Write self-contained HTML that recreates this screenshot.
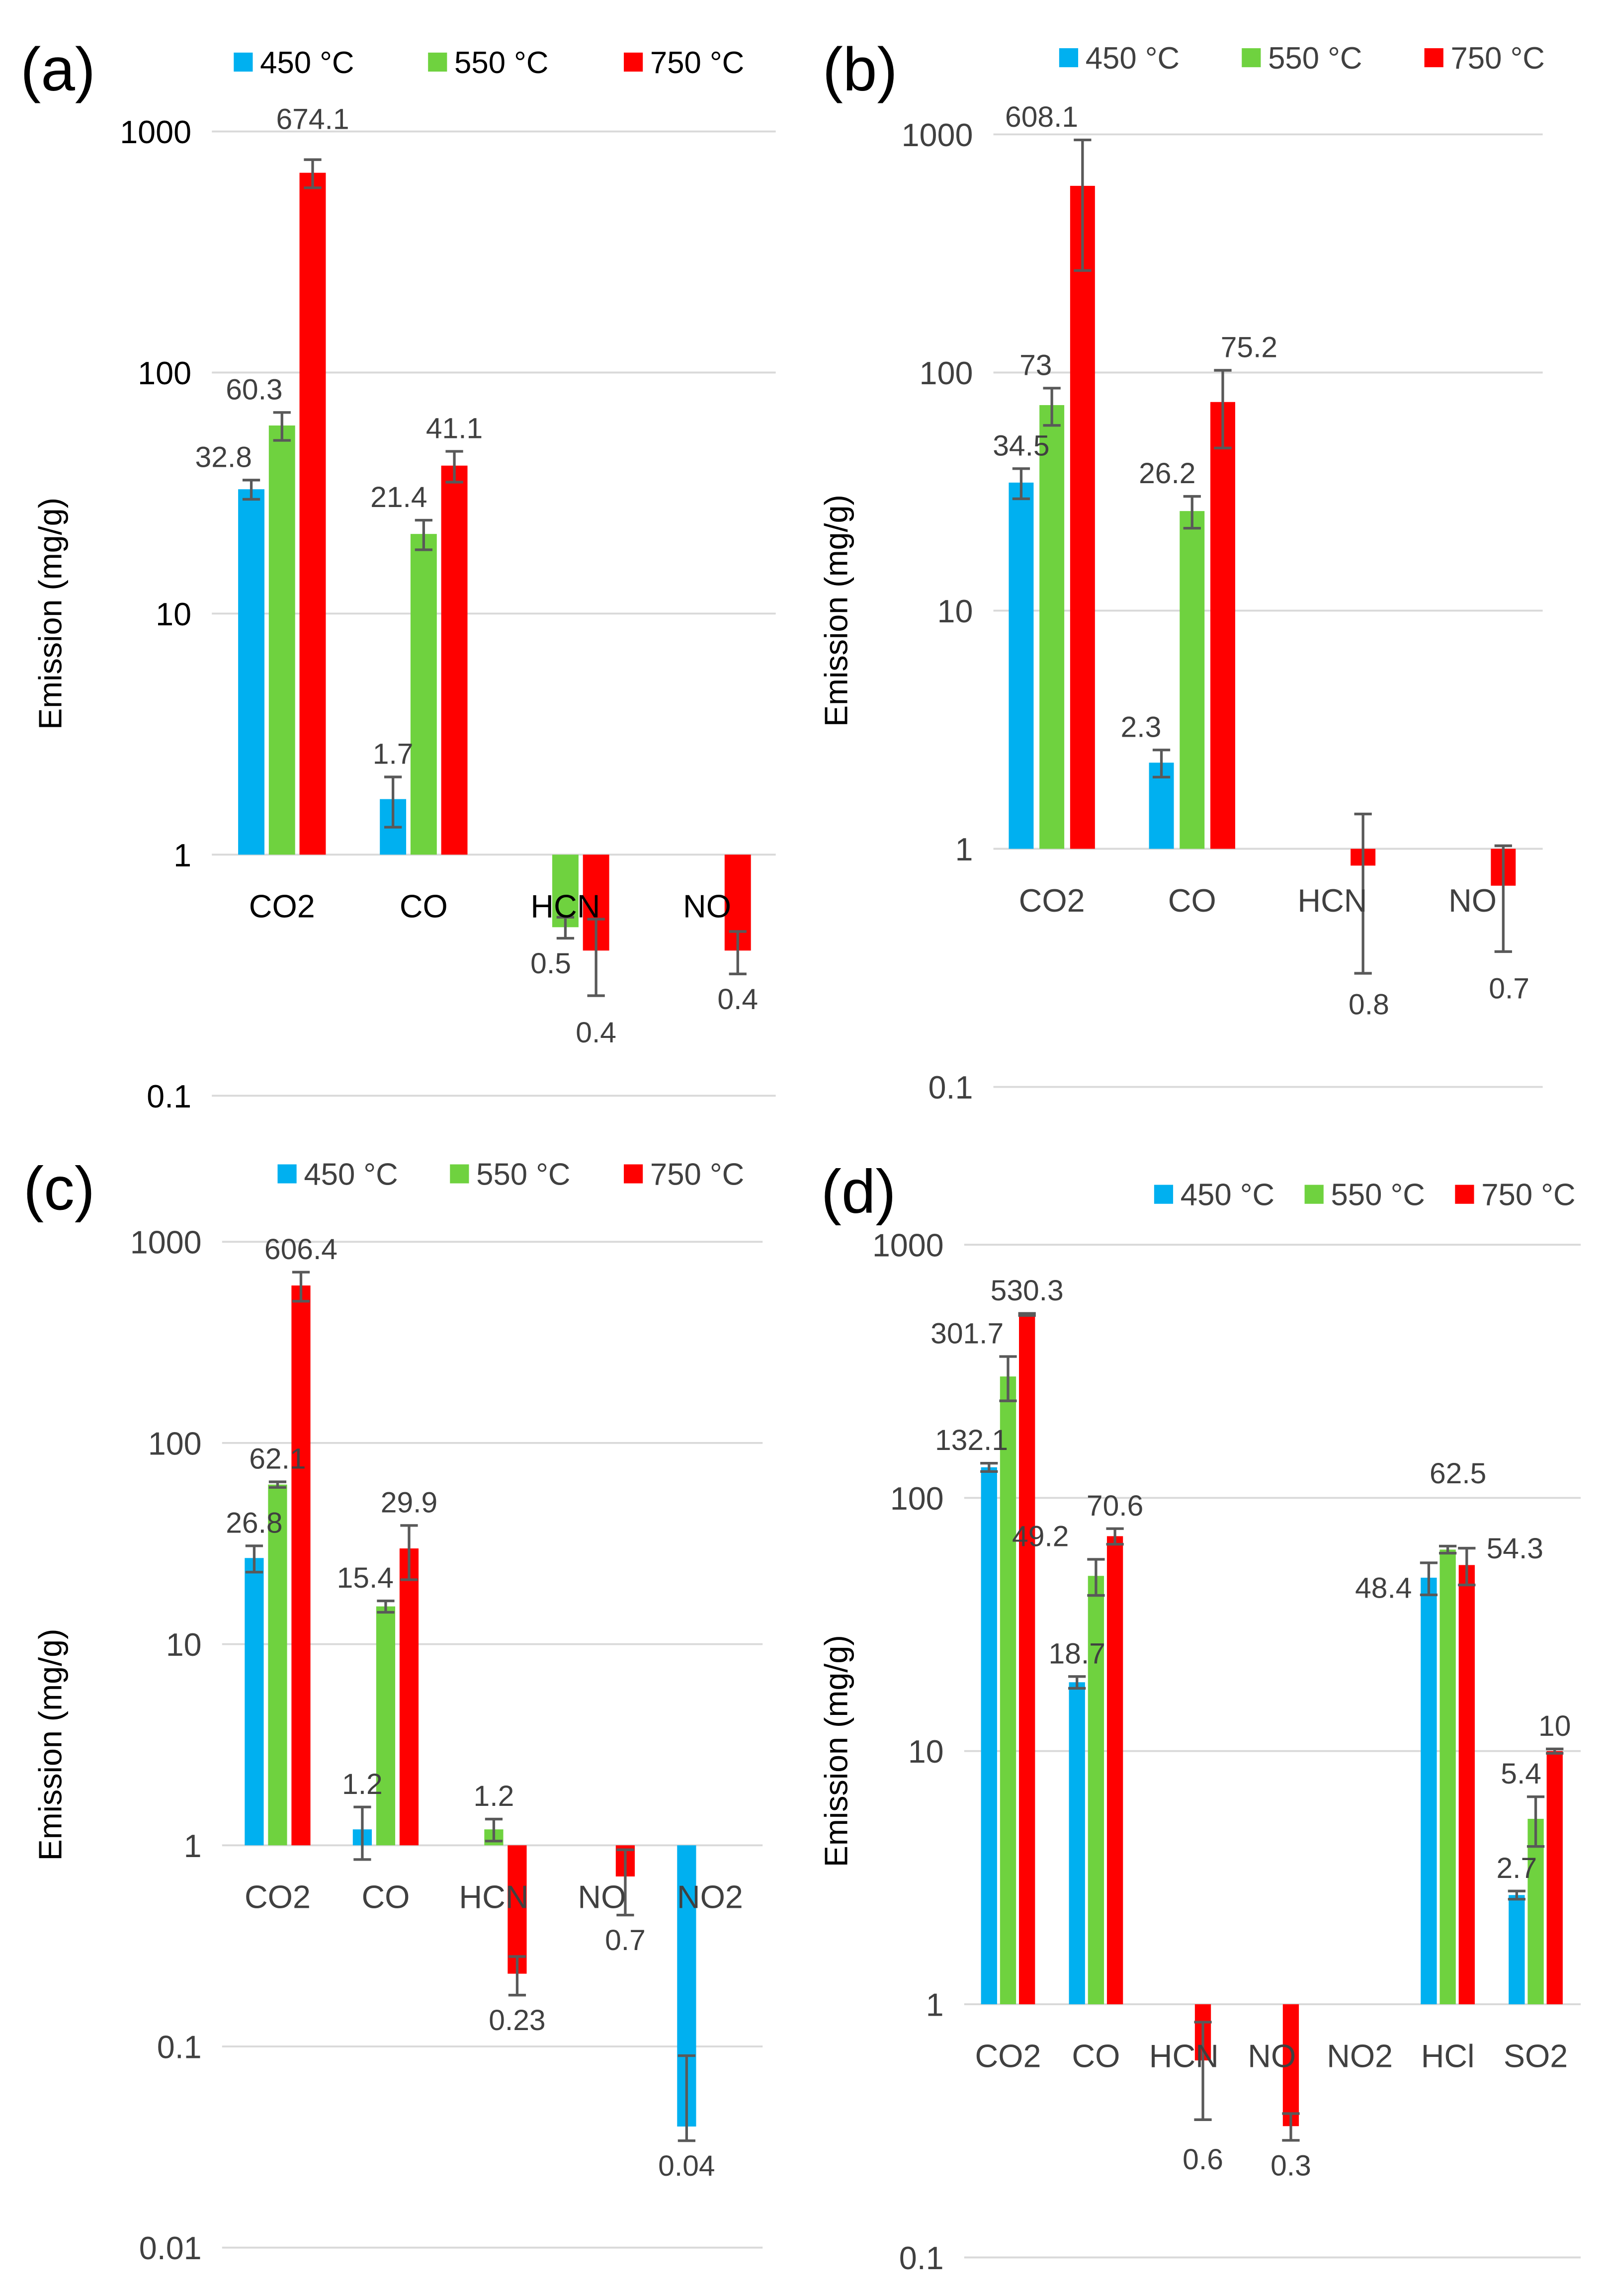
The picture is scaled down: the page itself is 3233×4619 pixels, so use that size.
<!DOCTYPE html>
<html><head><meta charset="utf-8"><style>
html,body{margin:0;padding:0;background:#fff}
svg{display:block}
text{font-family:"Liberation Sans",sans-serif;fill:#404040}
</style></head><body>
<svg id="fig" xmlns="http://www.w3.org/2000/svg" width="3233" height="4619" viewBox="0 0 1100 1571.6"></svg>
<script>
const seriesNames = ["450 °C","550 °C","750 °C"];
const colors = ["#00B0F0","#6FD23F","#FF0000"];
// panel a
const catsA = ["CO2","CO","HCN","NO"];
const a450 = [32.8,1.7,null,null];
const a550 = [60.3,21.4,0.5,null];
const a750 = [674.1,41.1,0.4,0.4];
const eA450 = [3,0.4,0,0];
const eA550 = [8,3,0.05,0];
const eA750 = [90,6,0.14,0.08];
// panel b
const catsB = ["CO2","CO","HCN","NO"];
const b450 = [34.5,2.3,null,null];
const b550 = [73,26.2,null,null];
const b750 = [608.1,75.2,0.85,0.7];
const eB450 = [5,0.3,0,0];
const eB550 = [13,4,0,0];
const eB750 = [340,27,0.55,0.33];
// panel c
const catsC = ["CO2","CO","HCN","NO","NO2"];
const c450 = [26.8,1.2,null,null,0.04];
const c550 = [62.1,15.4,1.2,null,null];
const c750 = [606.4,29.9,0.23,0.7,null];
const eC450 = [4,0.35,0,0,0.05];
const eC550 = [2,1,0.15,0,0];
const eC750 = [100,9,0.05,0.25,0];
// panel d
const catsD = ["CO2","CO","HCN","NO","NO2","HCl","SO2"];
const d450 = [132.1,18.7,null,null,null,48.4,2.7];
const d550 = [301.7,49.2,null,null,null,62.5,5.4];
const d750 = [530.3,70.6,0.6,0.33,null,54.3,10];
const eD450 = [5,1,0,0,0,7,0.1];
const eD550 = [60,8,0,0,0,2,1.2];
const eD750 = [5,5,0.25,0.04,0,9,0.2];
const labA=[["32.8","1.7",null,null],["60.3","21.4","0.5",null],["674.1","41.1","0.4","0.4"]];
const labB=[["34.5","2.3",null,null],["73","26.2",null,null],["608.1","75.2","0.8","0.7"]];
const labC=[["26.8","1.2",null,null,"0.04"],["62.1","15.4","1.2",null,null],["606.4","29.9","0.23","0.7",null]];
const labD=[["132.1","18.7",null,null,null,"48.4","2.7"],["301.7","49.2",null,null,null,"62.5","5.4"],["530.3","70.6","0.6","0.3",null,"54.3","10"]];
// label nudges (px) per series/category
const dxA=[[-19,0,0,0],[-19,-17,-10,0],[0,0,0,0]];
const dyA=[[0,0,0,0],[0,0,0,0],[-12,0,8,0]];
const dxB=[[0,-14,0,0],[-11,-17,0,0],[-28,18,4,4]];
const dyB=[[0,0,0,0],[0,0,0,0],[0,0,4,8]];
const dxC=[[0,0,0,0,0],[0,-14,0,0,0],[0,0,0,0,0]];
const dyC=[[0,0,0,0,0],[0,0,0,0,0],[0,0,0,0,0]];
const dxD=[[-12,0,0,0,0,-31,0],[-28,-38,0,0,0,7,-10],[0,0,0,0,0,33,0]];
const dyD=[[0,0,0,0,0,33,0],[0,0,0,0,0,-34,0],[0,0,10,0,0,16,0]];

const NS="http://www.w3.org/2000/svg";
const svg=document.getElementById('fig');
function mk(tag,attrs,parent,txt){const e=document.createElementNS(NS,tag);for(const k in attrs)e.setAttribute(k,attrs[k]);if(txt!=null)e.textContent=txt;(parent||svg).appendChild(e);return e;}

function panel(p){
  const g=mk('g',{});
  
  
  const topExp=3, y=v=>p.y1000+(topExp-Math.log10(v))*p.dec;
  for(let i=0;i<p.ticks.length;i++){
    const v=p.ticks[i];const yy=y(v);
    const l=mk('line',{x1:p.gx0,x2:p.gx1,y1:yy,y2:yy,stroke:'#D9D9D9','stroke-width':1.3},g);
    
    
    const t=mk('text',{x:p.gx0-14,y:yy+8,'text-anchor':'end','font-size':22,style:'fill:'+p.tc},g,String(v));
    
    
  }
  const series=[p.s1,p.s2,p.s3], errs=[p.e1,p.e2,p.e3];
  const base=y(1);
  const labelLayer=[];
  for(let c=0;c<p.cats.length;c++){
    const cx=p.cx0+c*p.step;
    for(let s=0;s<3;s++){
      const v=series[s][c]; if(v==null) continue;
      const bx=cx+(s-1)*(p.bw+p.gap)-p.bw/2;
      const yv=y(v), top=Math.min(yv,base), h=Math.abs(yv-base);
      const r=mk('rect',{x:bx,y:top,width:p.bw,height:Math.max(h,0.5),fill:colors[s]},g);
      
      
      const e=errs[s][c];
      let hi=yv, lo=yv;
      if(e>0){
        hi=y(v+e); lo=y(v-e>0?v-e:v*0.85);
        const mx=bx+p.bw/2;
        const el=mk('path',{d:`M${mx} ${hi}V${lo}M${mx-6} ${hi}H${mx+6}M${mx-6} ${lo}H${mx+6}`,stroke:'#595959','stroke-width':1.8,fill:'none'},g);
        
        
      }
      const lab=p.labs[s][c];
      if(lab){
        const ly = (v>=1 ? Math.min(hi,yv)-9 : Math.max(lo,yv)+24) + p.dy[s][c];
        labelLayer.push([bx+p.bw/2+p.dx[s][c],ly,lab]);
      }
    }
  }
  for(let c=0;c<p.cats.length;c++){
    const cx=p.cx0+c*p.step;
    const ct=mk('text',{x:cx,y:base+43,'text-anchor':'middle','font-size':22,style:'fill:'+p.tc},g,p.cats[c]);
    
    
  }
  for(const L of labelLayer){
    const lt=mk('text',{x:L[0],y:L[1],'text-anchor':'middle','font-size':20,style:'fill:#404040'},g,L[2]);
    
    
  }
  for(let s=0;s<3;s++){
    const lx=p.lx[s];
    const sq=mk('rect',{x:lx,y:p.ly-7,width:13,height:13,fill:colors[s]},g);
    
    
    const lt=mk('text',{x:lx+18,y:p.ly+7,'font-size':21,style:'fill:'+p.tc},g,seriesNames[s]);
    
    
  }
  const pl=mk('text',{x:p.px,y:p.py,'font-size':42,style:'fill:#000'},g,'('+p.id+')');
  
  
  const ty=(y(p.ticks[0])+y(p.ticks[p.ticks.length-1]))/2;
  const yt=mk('text',{x:p.tx,y:ty,'text-anchor':'middle','font-size':22,transform:`rotate(-90 ${p.tx} ${ty})`,style:'fill:#000'},g,'Emission (mg/g)');
  
  
}
panel({id:'a',y1000:90,dec:165,ticks:[1000,100,10,1,0.1],gx0:145,gx1:531,cats:catsA,cx0:193,step:97,bw:18,gap:3,
  s1:a450,s2:a550,s3:a750,e1:eA450,e2:eA550,e3:eA750,labs:labA,dx:dxA,dy:dyA,lx:[160,293,427],ly:43,px:14,py:62,tx:42,tc:'#000'});
panel({id:'b',y1000:92,dec:163,ticks:[1000,100,10,1,0.1],gx0:680,gx1:1056,cats:catsB,cx0:720,step:96,bw:17,gap:4,
  s1:b450,s2:b550,s3:b750,e1:eB450,e2:eB550,e3:eB750,labs:labB,dx:dxB,dy:dyB,lx:[725,850,975],ly:40,px:563,py:62,tx:580,tc:'#404040'});
panel({id:'c',y1000:850,dec:137.7,ticks:[1000,100,10,1,0.1,0.01],gx0:152,gx1:522,cats:catsC,cx0:190,step:74,bw:13,gap:3,
  s1:c450,s2:c550,s3:c750,e1:eC450,e2:eC550,e3:eC750,labs:labC,dx:dxC,dy:dyC,lx:[190,308,427],ly:804,px:16,py:828,tx:42,tc:'#404040'});
panel({id:'d',y1000:852,dec:173.3,ticks:[1000,100,10,1,0.1],gx0:660,gx1:1082,cats:catsD,cx0:690,step:60.2,bw:11,gap:2,
  s1:d450,s2:d550,s3:d750,e1:eD450,e2:eD550,e3:eD750,labs:labD,dx:dxD,dy:dyD,lx:[790,893,996],ly:818,px:562,py:830,tx:580,tc:'#404040'});
</script>
</body></html>
